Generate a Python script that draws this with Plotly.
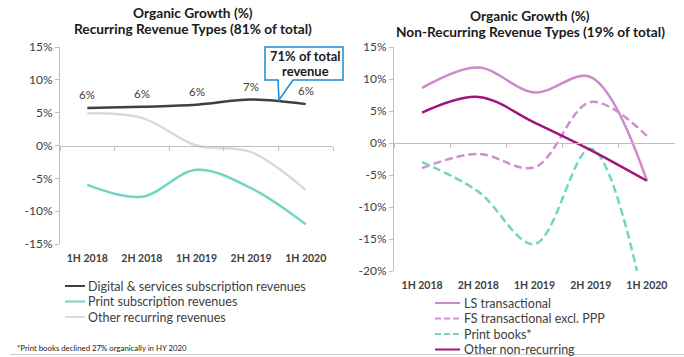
import plotly.graph_objects as go

W, H = 684, 357

categories = ["1H 2018", "2H 2018", "1H 2019", "2H 2019", "1H 2020"]

# Left chart: recurring revenue types (organic growth, %)
digital_services = [5.7, 5.9, 6.2, 7.0, 6.3]
digital_labels = ["6%", "6%", "6%", "7%", "6%"]
print_subscription = [-6.0, -7.8, -3.7, -6.5, -12.0]
other_recurring = [4.9, 4.2, 0.0, -1.0, -6.8]

# Right chart: non-recurring revenue types (organic growth, %)
ls_transactional = [8.6, 11.8, 7.9, 10.3, -5.9]
fs_transactional = [-3.9, -1.7, -3.8, 6.4, 1.1]
print_books = [-3.0, -7.6, -15.8, -0.9, -27.0]
other_non_recurring = [4.75, 7.2, 3.2, -1.1, -5.9]

left_ticks = [15, 10, 5, 0, -5, -10, -15]
left_tick_labels = ["15%", "10%", "5%", "0%", "-5%", "-10%", "-15%"]
right_ticks = [15, 10, 5, 0, -5, -10, -15, -20]
right_tick_labels = ["15%", "10%", "5%", "0%", "-5%", "-10%", "-15%", "-20%"]

left_names = ["Digital & services subscription revenues", "Print subscription revenues",
              "Other recurring revenues"]
right_names = ["LS transactional", "FS transactional excl. PPP", "Print books*",
               "Other non-recurring"]

FONT = "Lato"
C_DARK = "#404040"
C_TEAL = "#70D6C3"
C_LGRAY = "#DADADA"
C_ORCHID = "#CB8ACB"
C_PINK = "#D38ED0"
C_MAGENTA = "#9E1580"
AXIS_C = "#BFBFBF"
DASH = "8px,4px"
LEG_DASH = "6px,3px"


def px(x):
    return x / W


def py(y):
    return 1 - y / H


left_dom_x = [px(60), px(333)]
left_dom_y = [py(244), py(47)]
right_dom_x = [px(394), px(675)]
right_dom_y = [py(271), py(47)]
left_range = [-15, 15]
right_range = [-20, 15]


def zero_pos(dom, rng):
    return dom[0] + (0 - rng[0]) / (rng[1] - rng[0]) * (dom[1] - dom[0])


fig = go.Figure()

left_series = [
    (digital_services, C_DARK, "solid"),
    (print_subscription, C_TEAL, "solid"),
    (other_recurring, C_LGRAY, "solid"),
]
right_series = [
    (ls_transactional, C_ORCHID, "solid"),
    (fs_transactional, C_PINK, DASH),
    (print_books, C_TEAL, DASH),
    (other_non_recurring, C_MAGENTA, "solid"),
]

for (vals, col, dash), name in reversed(list(zip(left_series, left_names))):
    fig.add_trace(go.Scatter(
        x=categories, y=vals, name=name, xaxis="x", yaxis="y", mode="lines",
        line=dict(color=col, width=2.5, dash=dash, shape="spline", smoothing=1),
        showlegend=False, hoverinfo="skip",
    ))

for (vals, col, dash), name in zip(right_series, right_names):
    fig.add_trace(go.Scatter(
        x=categories, y=vals, name=name, xaxis="x2", yaxis="y2", mode="lines",
        line=dict(color=col, width=2.5, dash=dash, shape="spline", smoothing=1),
        showlegend=False, hoverinfo="skip",
    ))

# helper traces so the zero-line axes get drawn
for xa, ya in (("x3", "y"), ("x4", "y2")):
    fig.add_trace(go.Scatter(x=categories, y=[None] * len(categories), xaxis=xa, yaxis=ya,
                             mode="lines", showlegend=False, hoverinfo="skip"))

xcommon = dict(type="category", categoryorder="array", categoryarray=categories,
               range=[-0.5, len(categories) - 0.5], showgrid=False, zeroline=False,
               fixedrange=True, automargin=False)
ycommon = dict(showgrid=False, zeroline=False, showline=True, linecolor=AXIS_C, linewidth=1,
               ticks="outside", ticklen=4, tickcolor=AXIS_C, automargin=False, fixedrange=True,
               tickfont=dict(family=FONT, size=12, color=C_DARK))
zcommon = dict(showline=True, linecolor=AXIS_C, linewidth=1, ticks="outside", ticklen=4,
               tickcolor=AXIS_C, tickson="boundaries", showticklabels=False, anchor="free")

fig.update_layout(
    template="none",
    width=W, height=H, margin=dict(l=0, r=0, t=0, b=0, pad=0), autosize=False,
    paper_bgcolor="white", plot_bgcolor="white", showlegend=False,
    font=dict(family=FONT, color=C_DARK),
    xaxis=dict(domain=left_dom_x, anchor="y", showline=False, ticks="",
               tickfont=dict(family=FONT, size=10.5, color=C_DARK, weight="bold"),
               ticklabelstandoff=6, **xcommon),
    yaxis=dict(domain=left_dom_y, anchor="x", range=left_range, tickvals=left_ticks,
               ticktext=left_tick_labels, **ycommon),
    xaxis2=dict(domain=right_dom_x, anchor="y2", showline=False, ticks="",
                tickfont=dict(family=FONT, size=10.5, color=C_DARK, weight="bold"),
                ticklabelstandoff=6, **xcommon),
    yaxis2=dict(domain=right_dom_y, anchor="x2", range=right_range, tickvals=right_ticks,
                ticktext=right_tick_labels, **ycommon),
    xaxis3=dict(domain=left_dom_x, overlaying="x", position=zero_pos(left_dom_y, left_range),
                **zcommon, **xcommon),
    xaxis4=dict(domain=right_dom_x, overlaying="x2", position=zero_pos(right_dom_y, right_range),
                **zcommon, **xcommon),
)

annotations = []
shapes = []

# data labels above the digital & services line, placed through the data axes
for cat, val, lab in zip(categories, digital_services, digital_labels):
    annotations.append(dict(text=lab, x=cat, y=val, xref="x", yref="y", showarrow=False,
                            xanchor="center", yanchor="bottom", yshift=5,
                            font=dict(family=FONT, size=11.5, color=C_DARK)))


def ann(text, x, y, size, xanchor="center", color="#1a1a1a", align="center"):
    annotations.append(dict(text=text, x=px(x), y=py(y), xref="paper", yref="paper",
                            xanchor=xanchor, yanchor="middle", showarrow=False, align=align,
                            font=dict(family=FONT, size=size, color=color)))


# titles
ann("<b>Organic Growth (%)</b>", 193, 13, 13.7)
ann("<b>Recurring Revenue Types (81% of total)</b>", 193, 28.5, 13.7)
ann("<b>Organic Growth (%)</b>", 530, 16, 13.7)
ann("<b>Non-Recurring Revenue Types (19% of total)</b>", 530, 31.5, 13.7)


# manual legends
def add_legend(names, series, x0, x1, tx, ys):
    for name, (vals, col, dash), yy in zip(names, series, ys):
        d = "solid" if dash == "solid" else LEG_DASH
        shapes.append(dict(type="line", xref="paper", yref="paper", x0=px(x0), x1=px(x1),
                           y0=py(yy), y1=py(yy), line=dict(color=col, width=2, dash=d)))
        ann(name, tx, yy, 12.5, xanchor="left", color=C_DARK)


add_legend(left_names, left_series, 65, 85, 86, [286, 301.5, 317])
add_legend(right_names, right_series, 435, 460, 462, [303, 318.5, 334, 349.5])

# callout
pts = [(265, 47), (343, 47), (343, 80), (293, 80), (279, 100), (278, 80), (265, 80)]
path = "M " + " L ".join(f"{px(a):.5f},{py(b):.5f}" for a, b in pts) + " Z"
shapes.append(dict(type="path", path=path, xref="paper", yref="paper",
                   fillcolor="white", line=dict(color="#1B8AD3", width=1.5)))
ann("<b>71% of total</b>", 305, 56, 13)
ann("<b>revenue</b>", 305, 71.5, 13)

# footnote and separator
ann("*Print books declined 27% organically in HY 2020", 15, 347.5, 7.8, xanchor="left",
    color="#222222")
shapes.append(dict(type="line", xref="paper", yref="paper", x0=px(10), x1=px(684),
                   y0=py(354.5), y1=py(354.5), line=dict(color="#D0D0D0", width=1)))

fig.update_layout(annotations=annotations, shapes=shapes)
fig.write_html("out.html", config={"displayModeBar": False, "staticPlot": True},
               post_script="document.body.style.margin='0';document.body.style.overflow='hidden';")
